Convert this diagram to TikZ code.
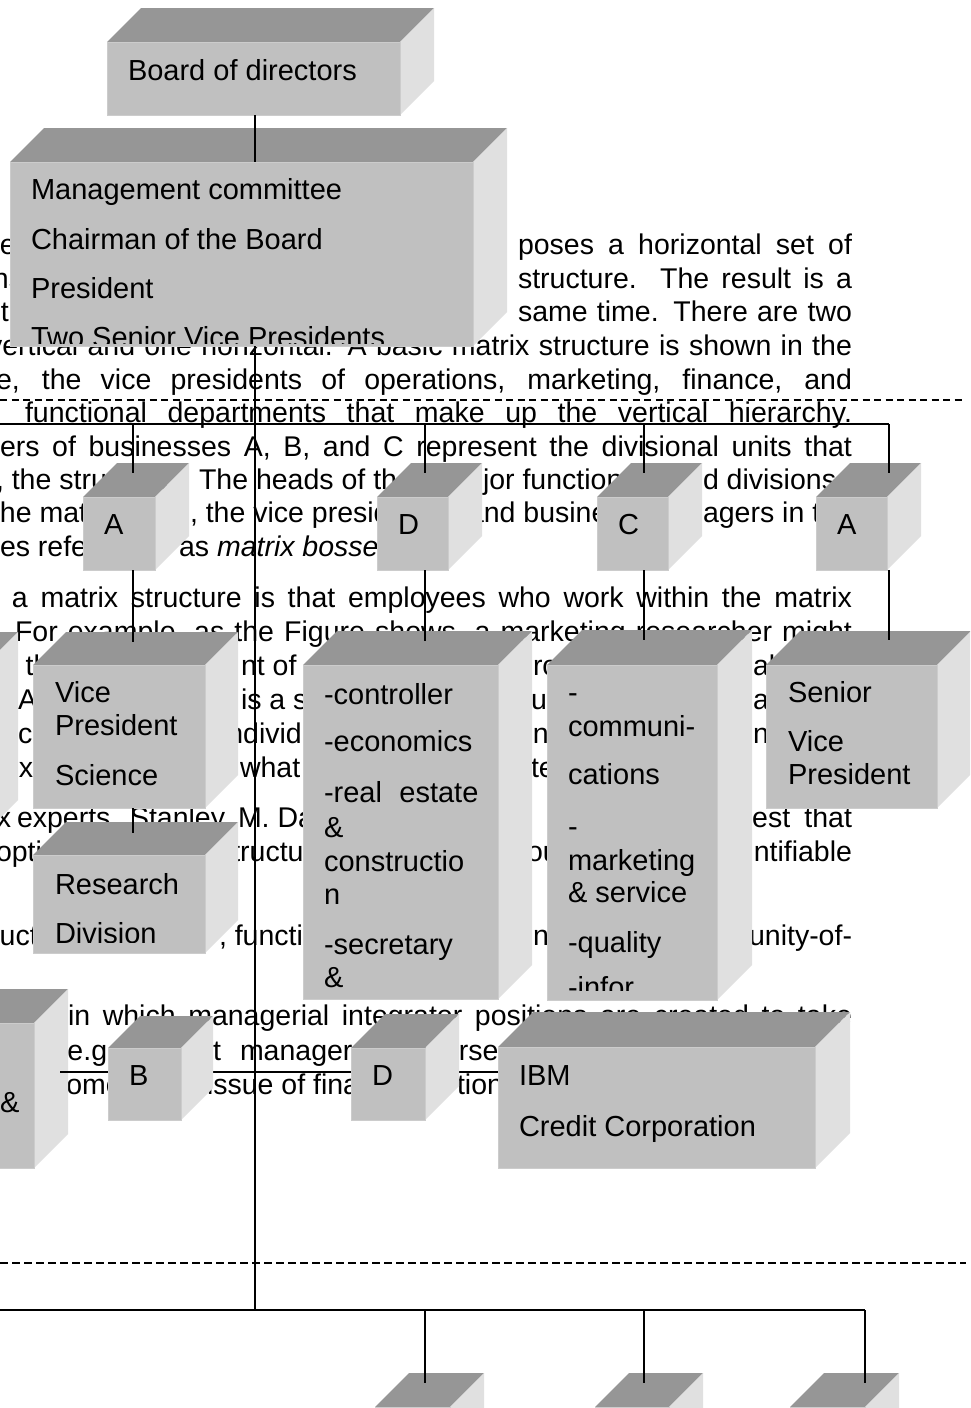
\documentclass[tikz,border=0pt]{standalone}
\usepackage{fontspec}
\setmainfont{Liberation Sans}
\definecolor{frontc}{RGB}{192,192,192}
\definecolor{topc}{RGB}{150,150,150}
\definecolor{sidec}{RGB}{224,224,224}
\definecolor{edgec}{RGB}{204,204,204}
\tikzset{
  frontbox/.style={fill=frontc, draw=edgec, line width=1pt, inner sep=0pt, outer sep=0pt, anchor=north west},
  topface/.style={fill=topc},
  sideface/.style={fill=sidec},
  bgtext/.style={anchor=base west, inner sep=0pt, outer sep=0pt, font=\fontsize{28.5}{33}\selectfont},
  boxtext/.style={anchor=base west, inner sep=0pt, outer sep=0pt, font=\fontsize{29}{34}\selectfont},
  conn/.style={draw=black, line width=1.4pt},
  bus/.style={draw=black, line width=2.2pt},
  dashline/.style={draw=black, line width=1.3pt, dash pattern=on 7pt off 4.5pt},
}
\newcommand\cubebox[6]{%
  \fill[topface] (#2,#3) -- ({(#2)+(#6)},{(#3)-(#6)}) -- ({(#4)+(#6)},{(#3)-(#6)}) -- (#4,#3) -- cycle;
  \fill[sideface] (#4,#3) -- ({(#4)+(#6)},{(#3)-(#6)}) -- ({(#4)+(#6)},{(#5)-(#6)}) -- (#4,#5) -- cycle;
  \node[frontbox, minimum width={(#4)-(#2)}, minimum height={(#5)-(#3)}] (#1) at (#2,#3) {};
}
\newcommand\bgt[4]{\node[bgtext] (#1) at (#2,{(#3)+9}) {#4};}
\newcommand\bgj[5]{\node[bgtext] (#1) at (#2,{(#3)+9}) {\makebox[#4pt][s]{#5}};}
\newcommand\bxt[4]{\node[boxtext] (#1) at (#2,{(#3)+9}) {#4};}
\begin{document}
\begin{tikzpicture}[x=1pt,y=-1pt]
\useasboundingbox (0,0) rectangle (970,1408);
\clip (0,0) rectangle (970,1408);
\fill[white] (0,0) rectangle (970,1408);

% ---------------- background text ----------------
\bgt{p1a}{-16}{245}{be}
\bgj{p1b}{518}{245}{334}{poses a horizontal set of}
\bgt{p2a}{-7}{279}{ns}
\bgj{p2b}{518}{279}{334}{structure. The result is a}
\bgt{p3a}{1}{312}{t}
\bgj{p3b}{518}{312}{334}{same time. There are two}
\bgj{p4}{-12}{346}{864}{vertical and one horizontal. A basic matrix structure is shown in the}
\bgj{p5}{-4}{380}{856}{e, the vice presidents of operations, marketing, finance, and}
\bgj{p6}{25}{413}{827}{functional departments that make up the vertical hierarchy.}
\bgj{p7}{0}{447}{852}{ers of businesses A, B, and C represent the divisional units that}
\bgt{p8a}{-4}{480}{, the structure.}
\bgt{p8b}{199}{480}{The heads of the}
\bgt{p8c}{483}{480}{jor functions}
\bgt{p8d}{703}{480}{d divisions}
\bgt{p9a}{-8}{513}{the matrix}
\bgt{p9b}{190}{513}{, the vice presidents}
\bgt{p9c}{468}{513}{and business}
\bgt{p9d}{703}{513}{agers in the}
\bgt{p10a}{0}{547}{es referred to}
\bgt{p10b}{179}{547}{as \textit{matrix bosses}.}

\bgj{q1}{12}{598}{840}{a matrix structure is that employees who work within the matrix}
\bgj{q2}{15}{632}{837}{For example, as the Figure shows, a marketing researcher might}
\bgt{q3a}{-6}{666}{to the}
\bgt{q3b}{241}{666}{nt of}
\bgt{q3c}{533}{666}{ro}
\bgt{q3d}{753}{666}{al}
\bgt{q4a}{18}{700}{A}
\bgt{q4b}{241}{700}{is a simple}
\bgt{q4c}{531}{700}{ut}
\bgt{q4d}{753}{700}{at}
\bgt{q5a}{18}{734}{c}
\bgt{q5b}{221}{734}{individual}
\bgt{q5c}{517}{734}{only}
\bgt{q5d}{753}{734}{ny}
\bgt{q6a}{19}{768}{x}
\bgt{q6b}{240}{768}{what}
\bgt{q6c}{531}{768}{te}

\bgt{r1a}{-3}{818}{x}
\bgt{r1b}{17}{818}{experts}
\bgt{r1c}{130}{818}{Stanley}
\bgt{r1d}{238}{818}{M. Davis}
\node[bgtext, anchor=base east] (r1e) at (852,827) {est\hspace{0.5em}that};
\bgt{r2a}{-4}{852}{option}
\bgt{r2b}{218}{852}{structure}
\bgt{r2c}{527}{852}{ou}
\node[bgtext, anchor=base east] (r2d) at (852,861) {ntifiable};

\bgt{s1a}{-32}{936}{structure}
\bgt{s1b}{219}{936}{, functional}
\bgt{s1c}{533}{936}{ni}
\node[bgtext, anchor=base east] (s1d) at (852,945) {unity-of-};

\bgj{u1}{68}{1016}{784}{in which managerial integrator positions are created to take}
\bgt{u2a}{58}{1051}{(e.g.,}
\bgt{u2b}{126}{1051}{product}
\bgt{u2c}{240}{1051}{managers}
\bgt{u2d}{413}{1051}{oversee}
\bgt{u3a}{52}{1085}{some}
\bgt{u3b}{207}{1085}{issue of financial}
\bgt{u3c}{457}{1085}{tion}

% ---------------- dashed separators ----------------
\coordinate (dsA) at (0,400);
\coordinate (dsB) at (966,400);
\draw[dashline] (dsA) -- (dsB);
\coordinate (dsC) at (0,1263);
\coordinate (dsD) at (966,1263);
\draw[dashline, line width=2pt, dash pattern=on 7.5pt off 4.5pt] (dsC) -- (dsD);

% ---------------- boxes ----------------
\cubebox{board}{107}{42}{400}{115}{34}
\bxt{tb1}{128}{71}{Board of directors}

\cubebox{mgmt}{10}{162}{473}{346}{34}
\begin{scope}
\clip (10,162) rectangle (473,343);
\bxt{tm1}{31}{190}{Management committee}
\bxt{tm2}{31}{240}{Chairman of the Board}
\bxt{tm3}{31}{289}{President}
\bxt{tm4}{31}{338}{Two Senior Vice Presidents}
\end{scope}

\cubebox{Asma}{83}{497}{155}{570}{34}
\bxt{ta1}{104}{525}{A}
\cubebox{Dsm}{377}{497}{448}{570}{34}
\bxt{td1}{398}{525}{D}
\cubebox{Csm}{597}{497}{668}{570}{34}
\bxt{tc1}{618}{525}{C}
\cubebox{Asmb}{816}{497}{887}{570}{34}
\bxt{ta2}{837}{525}{A}

\cubebox{lpa}{-150}{666}{-16}{834}{34}

\cubebox{vp}{33}{665}{205}{808}{33}
\bxt{tv1}{55}{693}{Vice}
\bxt{tv2}{55}{726}{President}
\bxt{tv3}{55}{776}{Science}

\cubebox{res}{33}{855}{205}{953}{33}
\begin{scope}
\clip (33,855) rectangle (205,942);
\bxt{tr1}{55}{885}{Research}
\bxt{tr2}{55}{934}{Division}
\end{scope}

\cubebox{fin}{303}{665}{498}{999}{34}
\begin{scope}
\clip (303,665) rectangle (498,992);
\bxt{tf1}{324}{695}{-controller}
\bxt{tf2}{324}{742}{-economics}
\bxt{tf3}{324}{793}{-real\hspace{0.6em}estate}
\bxt{tf4}{324}{828}{\&}
\bxt{tf5}{324}{862}{constructio}
\bxt{tf6}{324}{895}{n}
\bxt{tf7}{324}{945}{-secretary}
\bxt{tf8}{324}{978}{\&}
\end{scope}

\cubebox{com}{547}{665}{717}{1000}{35}
\begin{scope}
\clip (547,665) rectangle (717,990);
\bxt{tk1}{568}{693}{-}
\bxt{tk2}{568}{727}{communi-}
\bxt{tk3}{568}{775}{cations}
\bxt{tk4}{568}{827}{-}
\bxt{tk5}{568}{861}{marketing}
\bxt{tk6}{568}{893}{\& service}
\bxt{tk7}{568}{943}{-quality}
\bxt{tk8}{568}{988}{-infor}
\end{scope}

\cubebox{sen}{766}{665}{937}{808}{34}
\bxt{ts1}{788}{693}{Senior}
\bxt{ts2}{788}{742}{Vice}
\bxt{ts3}{788}{775}{President}

\cubebox{lpb}{-150}{1023}{34}{1168}{34}
\bxt{tl1}{0}{1103}{\&}

% horizontal link behind the lower row
\coordinate (hb) at (60,1072);
\cubebox{ibm}{498}{1047}{815}{1168}{35}
\draw[conn] (hb) -- (hb -| ibm.west);
\cubebox{Blow}{108}{1048}{181}{1120}{32}
\bxt{tbb}{129}{1076}{B}
\cubebox{Dlow}{351}{1048}{425}{1120}{34}
\bxt{tdd}{372}{1076}{D}
\bxt{ti1}{519}{1076}{IBM}
\bxt{ti2}{519}{1127}{Credit Corporation}

\cubebox{bxa}{375}{1407}{450}{1480}{34}
\cubebox{bxb}{595}{1407}{669}{1480}{34}
\cubebox{bxc}{790}{1407}{865}{1480}{34}

% ---------------- connectors ----------------
\coordinate (spine) at (255,1310);
\draw[conn] (spine |- board.south) -- (spine |- mgmt.north);
\draw[conn] (spine |- mgmt.south) -- (spine);

\coordinate (busL) at (-5,424);
\coordinate (dA1) at (133,473);
\coordinate (dD) at (425,473);
\coordinate (dC) at (644,473);
\coordinate (dA2) at (889,473);
\draw[bus] (busL) -- (dA2 |- busL);
\draw[conn] (dA1 |- busL) -- (dA1);
\draw[conn] (dD |- busL) -- (dD);
\draw[conn] (dC |- busL) -- (dC);
\draw[conn] (dA2 |- busL) -- (dA2);

\coordinate (vpIn) at (133,642);
\coordinate (finIn) at (425,641);
\coordinate (comIn) at (644,640);
\coordinate (senIn) at (889,640);
\draw[conn] (vpIn |- Asma.south) -- (vpIn);
\draw[conn] (finIn |- Dsm.south) -- (finIn);
\draw[conn] (comIn |- Csm.south) -- (comIn);
\draw[conn] (senIn |- Asmb.south) -- (senIn);

\coordinate (resIn) at (133,833);
\draw[conn] (resIn |- vp.south) -- (resIn);

\coordinate (bbL) at (-5,1310);
\coordinate (bd1) at (425,1383);
\coordinate (bd2) at (644,1383);
\coordinate (bd3) at (865,1383);
\draw[bus, line width=2.6pt] (bbL) -- (bd3 |- bbL);
\draw[conn] (bd1 |- bbL) -- (bd1);
\draw[conn] (bd2 |- bbL) -- (bd2);
\draw[conn] (bd3 |- bbL) -- (bd3);
\end{tikzpicture}
\end{document}
